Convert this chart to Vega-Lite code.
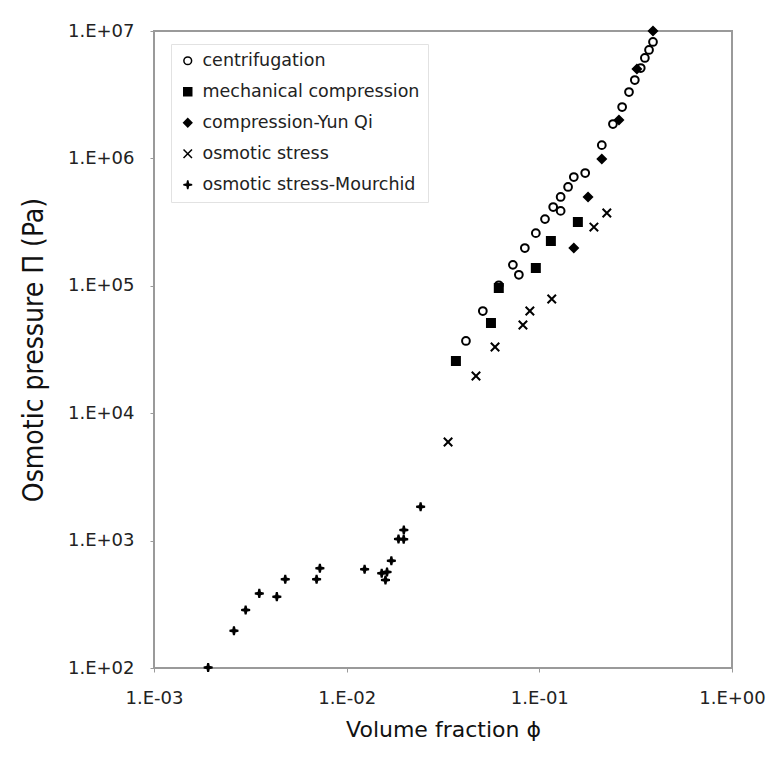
{
  "$schema": "https://vega.github.io/schema/vega-lite/v6.json",
  "width": 578,
  "height": 637,
  "autosize": {"type": "none"},
  "padding": {"left": 154, "top": 31, "right": 36, "bottom": 91},
  "background": "white",
  "config": {
    "view": {"stroke": "#9a9a9a", "strokeWidth": 2},
    "axis": {
      "grid": false,
      "domain": false,
      "tickColor": "#9a9a9a",
      "tickSize": 4,
      "labelFont": "DejaVu Sans",
      "labelFontSize": 18,
      "labelColor": "#222",
      "titleColor": "#111",
      "titleFontWeight": "normal"
    },
    "legend": {
      "labelFont": "DejaVu Sans",
      "labelFontSize": 17.5,
      "labelColor": "#222",
      "labelLimit": 0
    }
  },
  "data": {
    "values": [
      {"s": "centrifugation", "phi": 0.0416, "pi": 36900},
      {"s": "centrifugation", "phi": 0.0509, "pi": 63400},
      {"s": "centrifugation", "phi": 0.0616, "pi": 101000},
      {"s": "centrifugation", "phi": 0.0729, "pi": 146000},
      {"s": "centrifugation", "phi": 0.0783, "pi": 122000},
      {"s": "centrifugation", "phi": 0.0841, "pi": 198000},
      {"s": "centrifugation", "phi": 0.0959, "pi": 259000},
      {"s": "centrifugation", "phi": 0.107, "pi": 334000},
      {"s": "centrifugation", "phi": 0.118, "pi": 415000},
      {"s": "centrifugation", "phi": 0.129, "pi": 387000},
      {"s": "centrifugation", "phi": 0.129, "pi": 498000},
      {"s": "centrifugation", "phi": 0.141, "pi": 597000},
      {"s": "centrifugation", "phi": 0.151, "pi": 714000},
      {"s": "centrifugation", "phi": 0.173, "pi": 768000},
      {"s": "centrifugation", "phi": 0.211, "pi": 1270000},
      {"s": "centrifugation", "phi": 0.241, "pi": 1860000},
      {"s": "centrifugation", "phi": 0.269, "pi": 2530000},
      {"s": "centrifugation", "phi": 0.292, "pi": 3320000},
      {"s": "centrifugation", "phi": 0.313, "pi": 4120000},
      {"s": "centrifugation", "phi": 0.336, "pi": 5120000},
      {"s": "centrifugation", "phi": 0.353, "pi": 6140000},
      {"s": "centrifugation", "phi": 0.371, "pi": 7100000},
      {"s": "centrifugation", "phi": 0.389, "pi": 8200000},
      {"s": "mechanical compression", "phi": 0.0369, "pi": 25700},
      {"s": "mechanical compression", "phi": 0.0561, "pi": 51000},
      {"s": "mechanical compression", "phi": 0.0616, "pi": 96100},
      {"s": "mechanical compression", "phi": 0.0959, "pi": 138000},
      {"s": "mechanical compression", "phi": 0.1148, "pi": 225000},
      {"s": "mechanical compression", "phi": 0.1585, "pi": 317000},
      {"s": "compression-Yun Qi", "phi": 0.151, "pi": 198000},
      {"s": "compression-Yun Qi", "phi": 0.179, "pi": 498000},
      {"s": "compression-Yun Qi", "phi": 0.211, "pi": 990000},
      {"s": "compression-Yun Qi", "phi": 0.259, "pi": 2000000},
      {"s": "compression-Yun Qi", "phi": 0.321, "pi": 5030000},
      {"s": "compression-Yun Qi", "phi": 0.389, "pi": 10000000},
      {"s": "osmotic stress", "phi": 0.0336, "pi": 5940},
      {"s": "osmotic stress", "phi": 0.0469, "pi": 19600},
      {"s": "osmotic stress", "phi": 0.0589, "pi": 33100},
      {"s": "osmotic stress", "phi": 0.0822, "pi": 49200},
      {"s": "osmotic stress", "phi": 0.0893, "pi": 63400},
      {"s": "osmotic stress", "phi": 0.116, "pi": 78800},
      {"s": "osmotic stress", "phi": 0.192, "pi": 289000},
      {"s": "osmotic stress", "phi": 0.224, "pi": 373000},
      {"s": "osmotic stress-Mourchid", "phi": 0.00191, "pi": 101},
      {"s": "osmotic stress-Mourchid", "phi": 0.0026, "pi": 196},
      {"s": "osmotic stress-Mourchid", "phi": 0.00299, "pi": 285},
      {"s": "osmotic stress-Mourchid", "phi": 0.00352, "pi": 385},
      {"s": "osmotic stress-Mourchid", "phi": 0.00434, "pi": 363},
      {"s": "osmotic stress-Mourchid", "phi": 0.0048, "pi": 497},
      {"s": "osmotic stress-Mourchid", "phi": 0.00698, "pi": 497},
      {"s": "osmotic stress-Mourchid", "phi": 0.00726, "pi": 606},
      {"s": "osmotic stress-Mourchid", "phi": 0.01239, "pi": 595},
      {"s": "osmotic stress-Mourchid", "phi": 0.0152, "pi": 554},
      {"s": "osmotic stress-Mourchid", "phi": 0.0162, "pi": 567},
      {"s": "osmotic stress-Mourchid", "phi": 0.0159, "pi": 491},
      {"s": "osmotic stress-Mourchid", "phi": 0.01706, "pi": 695},
      {"s": "osmotic stress-Mourchid", "phi": 0.01858, "pi": 1030},
      {"s": "osmotic stress-Mourchid", "phi": 0.01977, "pi": 1025},
      {"s": "osmotic stress-Mourchid", "phi": 0.0198, "pi": 1211},
      {"s": "osmotic stress-Mourchid", "phi": 0.0242, "pi": 1845}
    ]
  },
  "mark": {"type": "point", "filled": true, "stroke": "black", "strokeWidth": 2, "opacity": 1},
  "encoding": {
    "x": {
      "field": "phi",
      "type": "quantitative",
      "scale": {"type": "log", "domain": [0.001, 1], "nice": false},
      "axis": {
        "values": [0.001, 0.01, 0.1, 1],
        "labelExpr": "'1.E' + (round(log(datum.value)/LN10) >= 0 ? '+' : '-') + (abs(round(log(datum.value)/LN10)) < 10 ? '0' : '') + abs(round(log(datum.value)/LN10))",
        "labelPadding": 17,
        "labelFlush": false,
        "title": "Volume fraction ϕ",
        "titleFont": "DejaVu Sans",
        "titleFontSize": 22,
        "titlePadding": 12
      }
    },
    "y": {
      "field": "pi",
      "type": "quantitative",
      "scale": {"type": "log", "domain": [100, 10000000], "nice": false},
      "axis": {
        "values": [100, 1000, 10000, 100000, 1000000, 10000000],
        "labelExpr": "'1.E' + (round(log(datum.value)/LN10) >= 0 ? '+' : '-') + (abs(round(log(datum.value)/LN10)) < 10 ? '0' : '') + abs(round(log(datum.value)/LN10))",
        "labelPadding": 16,
        "labelFlush": false,
        "title": "Osmotic pressure Π (Pa)",
        "titleFont": "DejaVu Sans Condensed, Liberation Sans",
        "titleFontSize": 28,
        "titlePadding": 19
      }
    },
    "shape": {
      "field": "s",
      "type": "nominal",
      "scale": {
        "domain": ["centrifugation", "mechanical compression", "compression-Yun Qi", "osmotic stress", "osmotic stress-Mourchid"],
        "range": ["circle", "square", "diamond", "M-1,-1L1,1M-1,1L1,-1", "M0,-1L0.18,-0.18L1,0L0.18,0.18L0,1L-0.18,0.18L-1,0L-0.18,-0.18Z"]
      },
      "legend": {"title": null, "orient": "none", "legendX": 17, "legendY": 13, "padding": 8, "rowPadding": 12, "strokeColor": "#e2e2e2", "fillColor": "white", "symbolStrokeWidth": 1.5, "labelOffset": 6}
    },
    "fill": {
      "field": "s",
      "type": "nominal",
      "scale": {
        "domain": ["centrifugation", "mechanical compression", "compression-Yun Qi", "osmotic stress", "osmotic stress-Mourchid"],
        "range": ["white", "black", "black", "black", "black"]
      },
      "legend": {"title": null, "orient": "none", "legendX": 17, "legendY": 13, "padding": 8, "rowPadding": 12, "strokeColor": "#e2e2e2", "fillColor": "white", "symbolStrokeWidth": 1.5, "labelOffset": 6}
    },
    "size": {
      "field": "s",
      "type": "nominal",
      "scale": {
        "domain": ["centrifugation", "mechanical compression", "compression-Yun Qi", "osmotic stress", "osmotic stress-Mourchid"],
        "range": [60, 75, 70, 45, 80]
      },
      "legend": {"title": null, "orient": "none", "legendX": 17, "legendY": 13, "padding": 8, "rowPadding": 12, "strokeColor": "#e2e2e2", "fillColor": "white", "symbolStrokeWidth": 1.5, "labelOffset": 6}
    }
  }
}
